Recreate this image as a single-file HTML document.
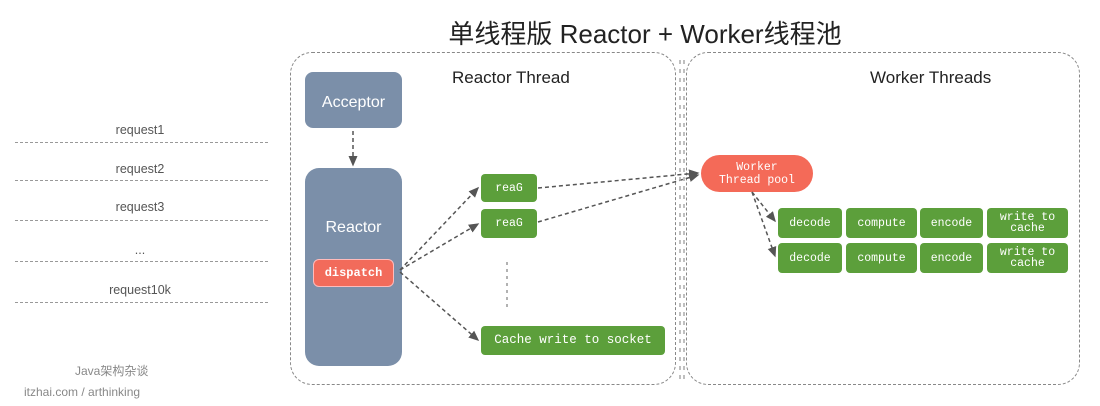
<!DOCTYPE html>
<html><head><meta charset="utf-8"><style>
body{margin:0;width:1100px;height:406px;background:#fff;position:relative;overflow:hidden;font-family:"Liberation Sans","Noto Sans CJK SC",sans-serif}
.a{position:absolute}
.box{position:absolute;display:flex;align-items:center;justify-content:center;text-align:center;color:#fff;box-sizing:border-box}
.g{background:#5c9f3b;border-radius:4px;font-family:"Liberation Mono",monospace;font-size:11.5px;line-height:11px}
.req{position:absolute;left:15px;width:253px;border-top:1.5px dashed #999}
.rl{position:absolute;left:80px;width:120px;text-align:center;font-size:12.5px;color:#555}
</style></head><body>
<div class="a" style="left:0;width:1100px;top:14px;text-align:center;font-size:26px;color:#222;padding-left:190px;box-sizing:border-box">单线程版 Reactor + Worker线程池</div>
<div class="a" style="left:290px;top:52px;width:386px;height:333px;border:1.5px dashed #888;border-radius:22px;box-sizing:border-box"></div>
<div class="a" style="left:686px;top:52px;width:394px;height:333px;border:1.5px dashed #888;border-radius:22px;box-sizing:border-box"></div>
<div class="a" style="left:452px;top:68px;font-size:17px;color:#222">Reactor Thread</div>
<div class="a" style="left:870px;top:68px;font-size:17px;color:#222">Worker Threads</div>
<div class="box" style="left:305px;top:72px;width:97px;height:56px;background:#7b8fa9;border-radius:8px;font-size:16px;padding-top:6px">Acceptor</div>
<div class="box" style="left:305px;top:168px;width:97px;height:198px;background:#7b8fa9;border-radius:14px;font-size:16px;align-items:flex-start;padding-top:51px">Reactor</div>
<div class="box" style="left:313px;top:259px;width:81px;height:28px;background:#f26b5b;border:1px solid #fbb;border-radius:6px;font-family:'Liberation Mono',monospace;font-size:12px;font-weight:bold">dispatch</div>
<div class="box g" style="left:481px;top:174px;width:56px;height:28px">reaG</div>
<div class="box g" style="left:481px;top:209px;width:56px;height:29px">reaG</div>
<div class="box g" style="left:481px;top:326px;width:184px;height:29px;font-size:12.5px">Cache write to socket</div>
<div class="box" style="left:701px;top:155px;width:112px;height:37px;background:#f46a58;border-radius:19px;font-family:'Liberation Mono',monospace;font-size:11.5px;line-height:13px">Worker<br>Thread pool</div>
<div class="box g" style="left:778px;top:208px;width:64px;height:30px">decode</div>
<div class="box g" style="left:846px;top:208px;width:71px;height:30px">compute</div>
<div class="box g" style="left:920px;top:208px;width:63px;height:30px">encode</div>
<div class="box g" style="left:987px;top:208px;width:81px;height:30px">write to<br>cache</div>
<div class="box g" style="left:778px;top:243px;width:64px;height:30px">decode</div>
<div class="box g" style="left:846px;top:243px;width:71px;height:30px">compute</div>
<div class="box g" style="left:920px;top:243px;width:63px;height:30px">encode</div>
<div class="box g" style="left:987px;top:243px;width:81px;height:30px">write to<br>cache</div>
<div class="rl" style="top:123px">request1</div><div class="req" style="top:142px"></div>
<div class="rl" style="top:162px">request2</div><div class="req" style="top:180px"></div>
<div class="rl" style="top:200px">request3</div><div class="req" style="top:220px"></div>
<div class="rl" style="top:243px">...</div><div class="req" style="top:261px"></div>
<div class="rl" style="top:283px">request10k</div><div class="req" style="top:302px"></div>
<div class="a" style="left:75px;top:362px;font-size:12px;color:#888">Java架构杂谈</div>
<div class="a" style="left:24px;top:385px;font-size:12px;color:#888">itzhai.com / arthinking</div>
<svg class="a" style="left:0;top:0" width="1100" height="406">
<defs><marker id="m" markerWidth="8" markerHeight="8" refX="6" refY="4" orient="auto"><path d="M0,1 L7,4 L0,7Z" fill="#555"/></marker></defs>
<g stroke="#555" stroke-width="1.5" stroke-dasharray="4,3" fill="none">
<line x1="353" y1="131" x2="353" y2="165" marker-end="url(#m)"/>
<line x1="400" y1="270" x2="478" y2="188" marker-end="url(#m)"/>
<line x1="400" y1="270" x2="478" y2="224" marker-end="url(#m)"/>
<line x1="400" y1="272" x2="478" y2="340" marker-end="url(#m)"/>
<line x1="538" y1="188" x2="698" y2="173" marker-end="url(#m)"/>
<line x1="538" y1="222" x2="698" y2="175" marker-end="url(#m)"/>
<line x1="752" y1="192" x2="775" y2="221" marker-end="url(#m)"/>
<line x1="752" y1="192" x2="775" y2="256" marker-end="url(#m)"/>
<line x1="507" y1="262" x2="507" y2="310" stroke="#999" stroke-dasharray="3,4"/>
<line x1="680" y1="60" x2="680" y2="380" stroke="#aaa" stroke-dasharray="4,5"/>
<line x1="684" y1="60" x2="684" y2="380" stroke="#aaa" stroke-dasharray="4,5"/>
</g></svg>
</body></html>
